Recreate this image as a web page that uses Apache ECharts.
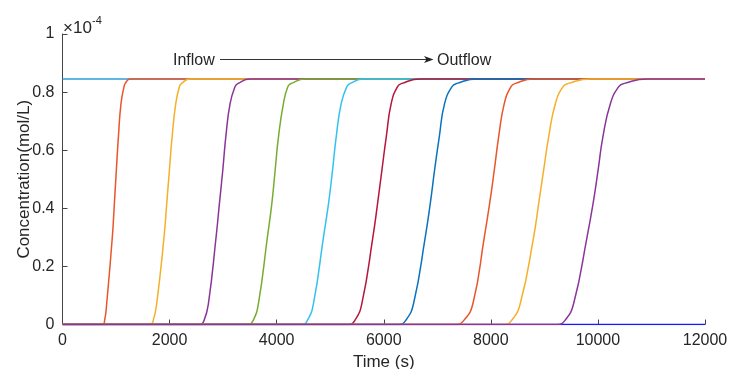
<!DOCTYPE html>
<html>
<head>
<meta charset="utf-8">
<script src="https://cdn.jsdelivr.net/npm/echarts@6/dist/echarts.min.js"></script>
<style>html,body{margin:0;padding:0;background:#fff}#c{width:729px;height:369px}</style>
</head>
<body>
<div id="c"></div>
<script>
// Concentration levels (x1e-4 mol/L) at which each breakthrough curve's time was read
const levels = [0, 0.015, 0.073, 0.302, 0.417, 0.532, 0.646, 0.761, 0.819, 0.83, 0.845];
// Times (s) at which each curve reaches the levels above
const curve1  = [751, 788, 826, 931, 969, 1006, 1044, 1093, 1150, 1172, 1262];
const curve2  = [1636, 1696, 1760, 1897, 1947, 1997, 2047, 2116, 2184, 2224, 2383];
const curve3  = [2570, 2646, 2726, 2869, 2931, 2994, 3050, 3131, 3224, 3280, 3505];
const curve4  = [3473, 3564, 3660, 3828, 3910, 3972, 4034, 4127, 4210, 4275, 4533];
const curve5  = [4471, 4576, 4688, 4875, 4969, 5044, 5112, 5206, 5312, 5374, 5623];
const curve6  = [5343, 5463, 5592, 5798, 5885, 5966, 6047, 6140, 6258, 6343, 6682];
const curve7  = [6277, 6414, 6558, 6776, 6869, 6950, 7037, 7137, 7275, 7368, 7742];
const curve8  = [7340, 7500, 7667, 7879, 7978, 8065, 8146, 8252, 8377, 8462, 8800];
const curve9  = [8240, 8392, 8551, 8800, 8894, 8987, 9080, 9206, 9349, 9451, 9860];
const curve10 = [9237, 9389, 9548, 9798, 9910, 10004, 10093, 10234, 10389, 10495, 10920];
const inflowLevel = 0.845;
const outflowLevel = 0;
const tStart = 0, tEnd = 12000;

const curves = [curve1, curve2, curve3, curve4, curve5, curve6, curve7, curve8, curve9, curve10];
const colors = ['#E8562A', '#F4B02A', '#8A3599', '#77AC30', '#33C2EE', '#B5163A', '#0A72BE', '#E8562A', '#F4B02A', '#8A3599'];
const FONT = 'Liberation Sans, Arial, sans-serif';
const TXT = '#262626';

function build(ts) {
  const d = [[tStart, levels[0]]];
  ts.forEach((t, i) => d.push([t, levels[i]]));
  d.push([tEnd, levels[levels.length - 1]]);
  return d;
}

const series = [
  {type: 'line', data: [[tStart, inflowLevel], [tEnd, inflowLevel]], lineStyle: {color: '#2A9FD6', width: 1.5}},
  {type: 'line', data: [[tStart, outflowLevel], [tEnd, outflowLevel]], lineStyle: {color: '#1A1AFF', width: 1.5}}
];
curves.forEach((c, i) => series.push({
  type: 'line', data: build(c), smooth: 0.5,
  lineStyle: {color: colors[i], width: 1.5}
}));
series.forEach(s => { s.symbol = 'none'; s.silent = true; s.animation = false; });

const chart = echarts.init(document.getElementById('c'), null, {renderer: 'canvas'});
chart.setOption({
  animation: false,
  backgroundColor: '#fff',
  grid: {left: 62.5, right: 24, top: 34, bottom: 44.5, containLabel: false, outerBoundsMode: 'none'},
  xAxis: {
    type: 'value', min: tStart, max: tEnd, interval: 2000,
    name: 'Time (s)', nameLocation: 'middle', nameGap: 27,
    nameTextStyle: {fontFamily: FONT, fontSize: 17, color: TXT},
    axisLine: {lineStyle: {color: '#444', width: 1}},
    axisTick: {inside: true, length: 5, lineStyle: {color: '#444'}},
    axisLabel: {fontFamily: FONT, fontSize: 16, color: TXT, margin: 8, formatter: v => String(v)},
    splitLine: {show: false}
  },
  yAxis: {
    type: 'value', min: 0, max: 1, interval: 0.2,
    name: 'Concentration(mol/L)', nameLocation: 'middle', nameGap: 30, nameMoveOverlap: false,
    nameTextStyle: {fontFamily: FONT, fontSize: 17, color: TXT},
    axisLine: {show: true, lineStyle: {color: '#444', width: 1}},
    axisTick: {show: true, inside: true, length: 5, lineStyle: {color: '#444'}},
    axisLabel: {fontFamily: FONT, fontSize: 16, color: TXT, margin: 8, formatter: v => String(+v.toFixed(1))},
    splitLine: {show: false}
  },
  series: series,
  graphic: [
    {type: 'text', left: 63, top: 20, style: {text: '×10', font: '17px ' + FONT, fill: TXT}},
    {type: 'text', left: 92, top: 15, style: {text: '-4', font: '11px ' + FONT, fill: TXT}},
    {type: 'text', left: 173, top: 53, style: {text: 'Inflow', font: '16px ' + FONT, fill: TXT}},
    {type: 'line', shape: {x1: 220, y1: 59.5, x2: 428, y2: 59.5}, style: {stroke: '#333', lineWidth: 1}},
    {type: 'polygon', shape: {points: [[424, 56], [433.5, 59.5], [424, 63], [426.5, 59.5]]}, style: {fill: '#222'}},
    {type: 'text', left: 437, top: 53, style: {text: 'Outflow', font: '16px ' + FONT, fill: TXT}}
  ]
});
</script>
</body>
</html>
